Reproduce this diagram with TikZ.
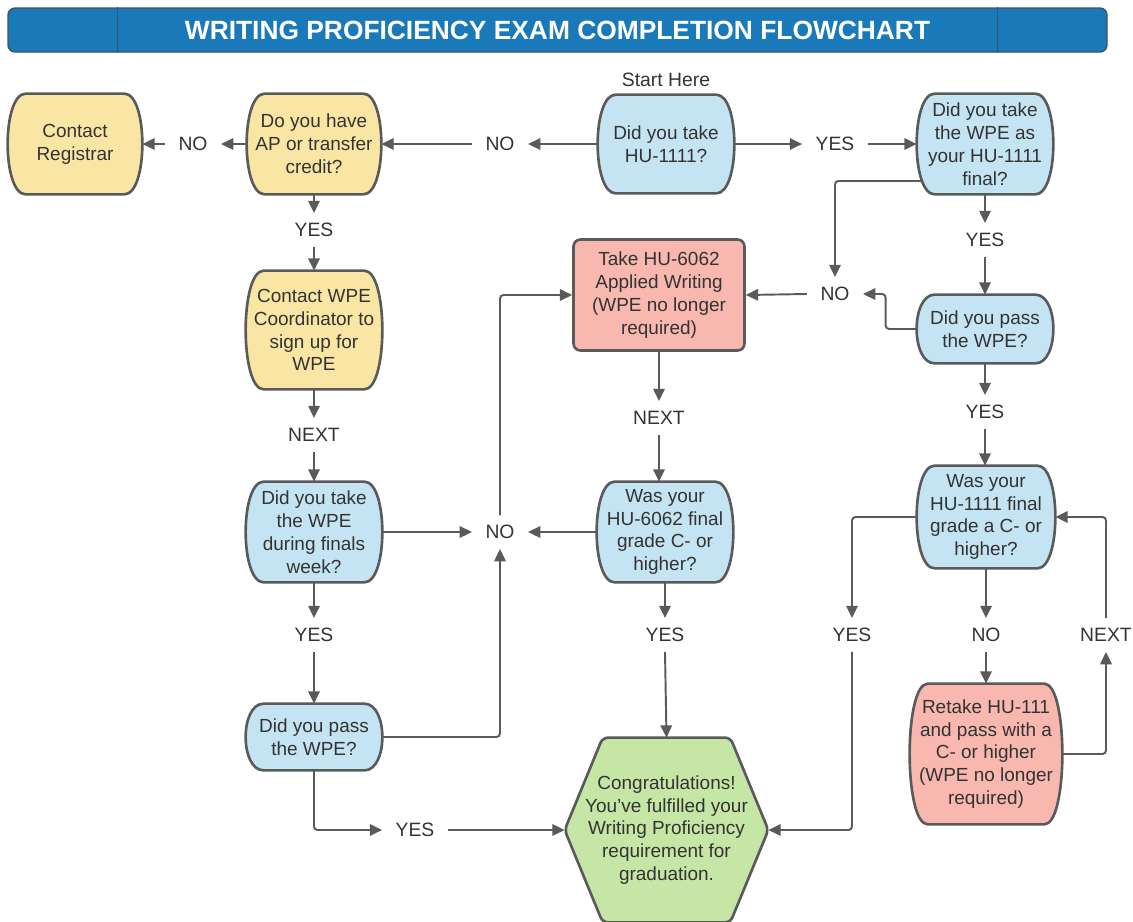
\documentclass[tikz,border=0pt]{standalone}
\usepackage{fontspec}
\setmainfont{Liberation Sans}
\usetikzlibrary{arrows.meta,calc}
\pgfdeclarelayer{connlayer}
\pgfdeclarelayer{shapelayer}
\pgfsetlayers{connlayer,shapelayer,main}
\definecolor{lineg}{HTML}{5A5A5A}
\definecolor{txtg}{HTML}{333333}
\definecolor{bluef}{HTML}{C5E4F3}
\definecolor{yelf}{HTML}{FAE6A4}
\definecolor{redf}{HTML}{F8B8AF}
\definecolor{grnf}{HTML}{C6E6A6}
\definecolor{titf}{HTML}{1A7AB9}
\definecolor{titd}{HTML}{3F5466}
\newcommand\bubout[2]{%
  \begin{pgfonlayer}{shapelayer}
  \draw[shapeline, fill=#2] ($(#1.north west)+(18,0)$) -- ($(#1.north east)+(-18,0)$)
    .. controls ($(#1.north east)+(6,0)$) and ($(#1.south east)+(6,0)$) .. ($(#1.south east)+(-18,0)$)
    -- ($(#1.south west)+(18,0)$)
    .. controls ($(#1.south west)+(-6,0)$) and ($(#1.north west)+(-6,0)$) .. cycle;
  \end{pgfonlayer}}
\begin{document}
\begin{tikzpicture}[x=0.02cm,y=-0.02cm,
  tx/.style={font=\fontsize{10.8}{13}\selectfont, text=txtg, align=center, inner sep=0pt},
  bub/.style 2 args={tx, minimum width=#1*0.02cm, minimum height=#2*0.02cm},
  lbl/.style={font=\fontsize{11}{13}\selectfont, text=txtg, text height=7.9pt, text depth=0pt, inner xsep=7.5pt, inner ysep=5.5pt},
  conn/.style={draw=lineg, line width=1.1pt, rounded corners=2pt, -{Triangle[length=7pt,width=6.5pt]}},
  shapeline/.style={draw=lineg, line width=1.5pt}]
\useasboundingbox (0,0) rectangle (1133,921);
% title
\node[minimum width=1099*0.02cm, minimum height=44*0.02cm, fill=titf, draw=titd, rounded corners=4pt, line width=0.8pt, text=white, font=\bfseries\fontsize{15}{18}\selectfont] (title) at (557.5,30) {WRITING PROFICIENCY EXAM COMPLETION FLOWCHART};
\draw[titd, line width=0.8pt] ($(title.north west)+(110,0)$) -- ($(title.south west)+(110,0)$);
\draw[titd, line width=0.8pt] ($(title.north east)+(-110,0)$) -- ($(title.south east)+(-110,0)$);
% nodes
\node[bub={134}{100}] (CR) at (75,144) {Contact\\Registrar};
\node[bub={134}{100}] (AP) at (314,144) {Do you have\\AP or transfer\\credit?};
\node[bub={136}{98}] (S) at (666,144) {Did you take\\HU-1111?};
\node[lbl] (SH) at (666,80) {Start Here};
\node[bub={136}{100}] (WF) at (985,144) {Did you take\\the WPE as\\your HU-1111\\final?};
\node[lbl] (noA) at (193,144) {NO};
\node[lbl] (noB) at (500,144) {NO};
\node[lbl] (yesA) at (835,144) {YES};
\node[lbl] (yesB) at (314,230) {YES};
\node[bub={136}{118}] (CW) at (314,330) {Contact WPE\\Coordinator to\\sign up for\\WPE};
\node[lbl] (nextA) at (314,435) {NEXT};
\node[bub={136}{100}] (DF) at (314,532) {Did you take\\the WPE\\during finals\\week?};
\node[lbl] (noD) at (500,532) {NO};
\node[lbl] (yesC) at (314,635) {YES};
\node[bub={136}{66}] (PL) at (314,737) {Did you pass\\the WPE?};
\node[lbl] (yesD) at (415,830) {YES};
\node[tx, minimum width=203*0.02cm, minimum height=184*0.02cm] (CG) at (666.5,830) {Congratulations!\\You've fulfilled your\\Writing Proficiency\\requirement for\\graduation.};
\node[tx, draw=lineg, line width=1.5pt, fill=redf, rounded corners=4pt, minimum width=171*0.02cm, minimum height=111*0.02cm] (T62) at (659,295) {Take HU-6062\\Applied Writing\\(WPE no longer\\required)};
\node[lbl] (nextB) at (659,418) {NEXT};
\node[bub={136}{100}] (G62) at (665,532) {Was your\\HU-6062 final\\grade C- or\\higher?};
\node[lbl] (yesE) at (665,635) {YES};
\node[lbl] (noC) at (835,294) {NO};
\node[lbl] (yesF) at (985,240) {YES};
\node[bub={136}{68}] (PR) at (985,329) {Did you pass\\the WPE?};
\node[lbl] (yesG) at (985,412) {YES};
\node[bub={138}{102}] (G11) at (986,517) {Was your\\HU-1111 final\\grade a C- or\\higher?};
\node[lbl] (yesH) at (852,635) {YES};
\node[lbl] (noE) at (986,635) {NO};
\node[lbl] (nextC) at (1106,635) {NEXT};
\node[bub={152}{140}] (RT) at (986,754) {Retake HU-111\\and pass with a\\C- or higher\\(WPE no longer\\required)};
% outlines
\bubout{CR}{yelf}
\bubout{AP}{yelf}
\bubout{CW}{yelf}
\bubout{S}{bluef}
\bubout{WF}{bluef}
\bubout{DF}{bluef}
\bubout{PL}{bluef}
\bubout{G62}{bluef}
\bubout{PR}{bluef}
\bubout{G11}{bluef}
\bubout{RT}{redf}
\begin{pgfonlayer}{shapelayer}
\draw[shapeline, fill=grnf, rounded corners=3pt] ($(CG.north west)+(38,0)$) -- ($(CG.north east)+(-38,0)$) -- (CG.east) -- ($(CG.south east)+(-38,0)$) -- ($(CG.south west)+(38,0)$) -- (CG.west) -- cycle;
\end{pgfonlayer}
% connectors
\begin{pgfonlayer}{connlayer}
\draw[conn] (S.west) -- (noB.east);
\draw[conn] (noB.west) -- (AP.east);
\draw[conn] (AP.west) -- (noA.east);
\draw[conn] (noA.west) -- (CR.east);
\draw[conn] (S.east) -- (yesA.west);
\draw[conn] (yesA.east) -- (WF.west);
\draw[conn] (AP.south) -- (yesB.north);
\draw[conn] (yesB.south) -- (CW.north);
\draw[conn] (CW.south) -- (nextA.north);
\draw[conn] (nextA.south) -- (DF.north);
\draw[conn] (DF.east) -- (noD.west);
\draw[conn] (G62.west) -- (noD.east);
\draw[conn] (PL.east) -| (noD.south);
\draw[conn] (noD.north) |- (T62.west);
\draw[conn] (DF.south) -- (yesC.north);
\draw[conn] (yesC.south) -- (PL.north);
\draw[conn] (PL.south) |- (yesD.west);
\draw[conn] (yesD.east) -- (CG.west);
\draw[conn] (T62.south) -- (nextB.north);
\draw[conn] (nextB.south) -- (nextB.south |- G62.north);
\draw[conn] (G62.south) -- (yesE.north);
\draw[conn] (yesE.south) -- (CG.north);
\draw[conn] (WF.south) -- (yesF.north);
\draw[conn] (yesF.south) -- (PR.north);
\draw[conn] ($(WF.center)+(0,37)$) -| (noC.north);
\draw[conn] (PR.west) -- ++(-31,0) |- (noC.east);
\draw[conn] (noC.west) -- (T62.east);
\draw[conn] (PR.south) -- (yesG.north);
\draw[conn] (yesG.south) -- (yesG.south |- G11.north);
\draw[conn] (G11.west) -| (yesH.north);
\draw[conn] (yesH.south) |- (CG.east);
\draw[conn] (G11.south) -- (noE.north);
\draw[conn] (noE.south) -- (RT.north);
\draw[conn] (RT.east) -| (nextC.south);
\draw[conn] (nextC.north) |- (G11.east);
\end{pgfonlayer}
\end{tikzpicture}
\end{document}
